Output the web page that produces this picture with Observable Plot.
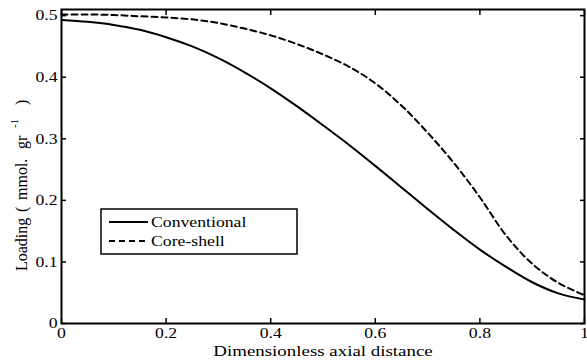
<!DOCTYPE html>
<html>
<head>
<meta charset="utf-8">
<script src="https://cdn.jsdelivr.net/npm/d3@7"></script>
<script src="https://cdn.jsdelivr.net/npm/@observablehq/plot@0.6"></script>
<style>
  html, body { margin: 0; padding: 0; background: #fff; }
  #chart svg { display: block; }
</style>
</head>
<body>
<div id="chart"></div>
<script>
// ---- data ----
const distance = [0, 0.05, 0.1, 0.15, 0.2, 0.25, 0.3, 0.35, 0.4, 0.45, 0.5, 0.55, 0.6, 0.65, 0.7, 0.75, 0.8, 0.85, 0.9, 0.95, 1];
const conventional = [0.493, 0.490, 0.485, 0.477, 0.465, 0.450, 0.431, 0.408, 0.382, 0.353, 0.322, 0.290, 0.256, 0.221, 0.186, 0.152, 0.120, 0.092, 0.067, 0.049, 0.039];
const coreShell = [0.502, 0.502, 0.501, 0.499, 0.497, 0.494, 0.488, 0.479, 0.468, 0.454, 0.437, 0.417, 0.390, 0.354, 0.310, 0.261, 0.205, 0.143, 0.097, 0.066, 0.046];
const seriesNames = ["Conventional", "Core-shell"];
const xTicks = [0, 0.2, 0.4, 0.6, 0.8, 1];
const yTicks = [0, 0.1, 0.2, 0.3, 0.4, 0.5];
const xLabel = "Dimensionless axial distance";
const yLabelParts = ["Loading", "(", "mmol.", "gr", "-1", ")"];

const convData = distance.map((d, i) => ({x: d, y: conventional[i]}));
const coreData = distance.map((d, i) => ({x: d, y: coreShell[i]}));

const font = "'Liberation Serif', 'Times New Roman', serif";

const chart = Plot.plot({
  width: 587,
  height: 360,
  marginLeft: 61,
  marginRight: 3,
  marginTop: 9,
  marginBottom: 37,
  style: {fontFamily: font, fontSize: "15px", color: "black", background: "white"},
  x: {domain: [0, 1]},
  y: {domain: [0, 0.51]},
  marks: [
    Plot.line(convData, {x: "x", y: "y", stroke: "black", strokeWidth: 2, curve: "catmull-rom"}),
    Plot.line(coreData, {x: "x", y: "y", stroke: "black", strokeWidth: 2, strokeDasharray: "6,4", curve: "catmull-rom"}),
    // inward ticks on all sides
    Plot.axisX(xTicks, {anchor: "bottom", tickSize: -5, strokeWidth: 1.5, fill: "none", label: null}),
    Plot.axisX(xTicks, {anchor: "top", tickSize: -5, strokeWidth: 1.5, fill: "none", label: null}),
    Plot.axisY(yTicks, {anchor: "left", tickSize: -5, strokeWidth: 1.5, fill: "none", label: null}),
    Plot.axisY(yTicks, {anchor: "right", tickSize: -5, strokeWidth: 1.5, fill: "none", label: null}),
    // tick labels
    Plot.axisX(xTicks, {anchor: "bottom", tickSize: 0, tickPadding: 4, tickFormat: d => String(d), label: null, fontSize: 15}),
    Plot.axisY(yTicks, {anchor: "left", tickSize: 0, tickPadding: 4, tickFormat: d => String(d), label: null, fontSize: 15}),
    Plot.text([xLabel], {text: d => d, frameAnchor: "bottom", dy: 32, fontSize: 15, fill: "black"}),
    Plot.frame({stroke: "black", strokeWidth: 2})
  ]
});
document.getElementById("chart").append(chart);

const svg = d3.select(chart);

// y-axis label (MATLAB-style wide spacing, superscript -1)
const yl = svg.append("text")
  .attr("transform", "translate(27,271) rotate(-90)")
  .attr("text-anchor", "start")
  .attr("fill", "black")
  .style("font-family", font)
  .style("font-size", "16px");
const ylPos = [0, 59, 71, 122, 143, 166];
yLabelParts.forEach((t, i) => {
  const sp = yl.append("tspan").attr("x", ylPos[i]).text(t);
  if (i === 4) sp.attr("dy", -9).style("font-size", "11px");
  if (i === 5) sp.attr("dy", 9);
});

// legend
const lg = svg.append("g").attr("class", "legend");
lg.append("rect").attr("x", 101).attr("y", 209).attr("width", 196).attr("height", 45)
  .attr("fill", "white").attr("stroke", "black").attr("stroke-width", 1.5);
const dashes = [null, "6,4"];
seriesNames.forEach((name, i) => {
  const yy = 222 + i * 19;
  lg.append("line").attr("x1", 109).attr("x2", 148).attr("y1", yy).attr("y2", yy)
    .attr("stroke", "black").attr("stroke-width", 2).attr("stroke-dasharray", dashes[i]);
  lg.append("text").attr("class", "stretch").attr("x", 151).attr("y", yy).attr("dy", "0.35em")
    .attr("text-anchor", "start")
    .attr("fill", "black").style("font-family", font).style("font-size", "15px").text(name);
});

// mimic the horizontally stretched look of the original figure
function stretch(sel, k) {
  sel.each(function() {
    const w = this.getComputedTextLength();
    this.setAttribute("textLength", w * k);
    this.setAttribute("lengthAdjust", "spacingAndGlyphs");
  });
}
stretch(svg.selectAll("g[aria-label='x-axis tick label'] text, g[aria-label='y-axis tick label'] text, text.stretch"), 1.18);
stretch(svg.selectAll("g[aria-label='text'] text"), 1.26);
</script>
</body>
</html>
